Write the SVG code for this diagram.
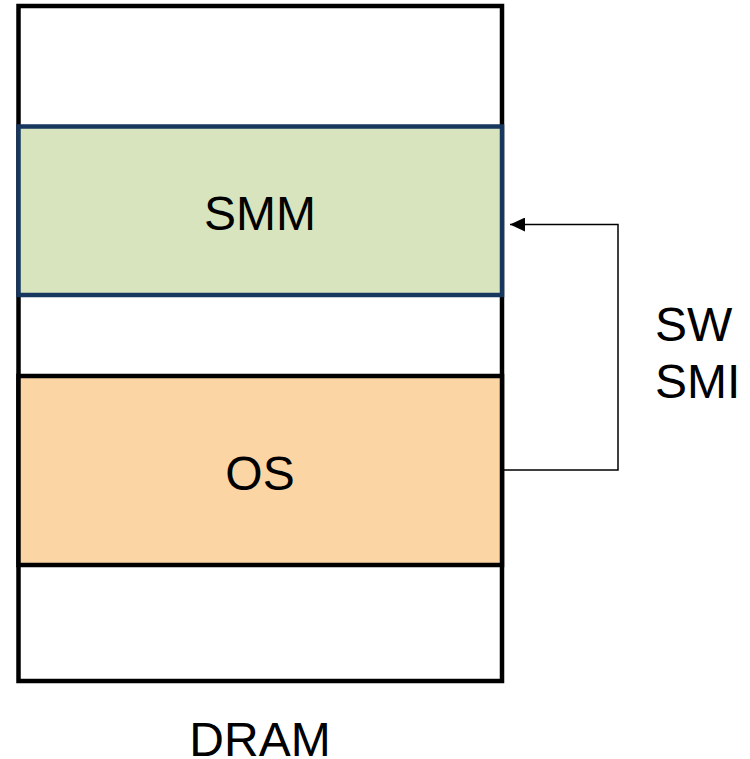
<svg xmlns="http://www.w3.org/2000/svg" width="750" height="759" viewBox="0 0 750 759">
  <style>
    .lbl { font-family: "Liberation Sans", Arial, sans-serif; font-size: 48px; fill: #000; }
    .mid { text-anchor: middle; }
    .conn { fill: none; stroke: #000; stroke-width: 1.5; }
  </style>
  <defs>
    <marker id="arrow" viewBox="0 0 15 14" refX="15" refY="7" markerWidth="15" markerHeight="14" markerUnits="userSpaceOnUse" orient="auto">
      <path d="M0,0 L15,7 L0,14 z" fill="#000"/>
    </marker>
  </defs>
  <rect width="750" height="759" fill="#fff"/>

  <!-- memory outline -->
  <g id="dram">
    <rect x="18.5" y="6" width="483.5" height="675" fill="#fff" stroke="#000" stroke-width="4.5"/>
    <text class="lbl mid" x="260" y="756">DRAM</text>
  </g>

  <!-- SMM region -->
  <g id="smm">
    <rect x="18.5" y="126.5" width="483.5" height="168.5" fill="#D7E4BD" stroke="#17375E" stroke-width="4.5"/>
    <text class="lbl mid" x="260" y="230">SMM</text>
  </g>

  <!-- OS region -->
  <g id="os">
    <rect x="18.5" y="376" width="483.5" height="189" fill="#FCD5A5" stroke="#000" stroke-width="4.5"/>
    <text class="lbl mid" x="260" y="490">OS</text>
  </g>

  <!-- SW SMI transition -->
  <g id="connectors">
    <path class="conn" d="M504,470 H618 V224.5 H510" marker-end="url(#arrow)"/>
  </g>
  <g id="sw-smi">
    <text class="lbl" x="655" y="341">SW</text>
    <text class="lbl" x="655" y="398">SMI</text>
  </g>
</svg>
